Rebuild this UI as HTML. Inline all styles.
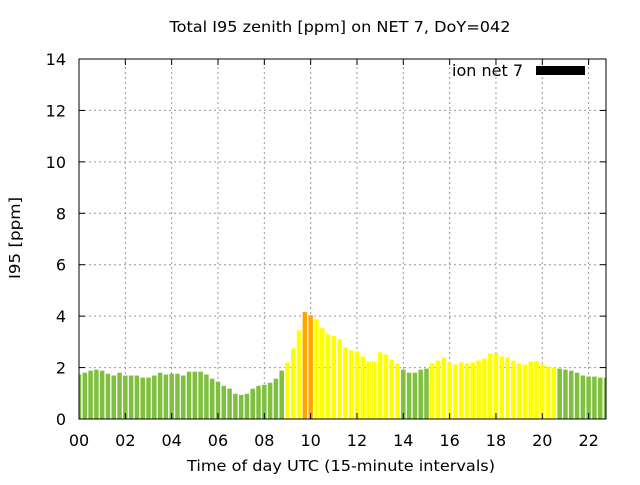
<!DOCTYPE html>
<html><head><meta charset="utf-8"><style>
body{margin:0;background:#fff}
svg text{font-family:"DejaVu Sans","Liberation Sans",sans-serif;fill:#000}
</style></head><body>
<svg id="chart" width="640" height="480" xmlns="http://www.w3.org/2000/svg">
<rect width="640" height="480" fill="#fff"/>
<text x="340" y="32" text-anchor="middle" font-size="15" textLength="341" lengthAdjust="spacingAndGlyphs">Total I95 zenith [ppm] on NET 7, DoY=042</text>
<g id="grid"></g>
<g id="bars"></g>
<g id="axes"></g>
<text x="341" y="471" text-anchor="middle" font-size="15" textLength="308" lengthAdjust="spacingAndGlyphs">Time of day UTC (15-minute intervals)</text>
<text transform="translate(20,238) rotate(-90)" text-anchor="middle" font-size="15" textLength="82" lengthAdjust="spacingAndGlyphs">I95 [ppm]</text>
<g>
<text x="523" y="76" text-anchor="end" font-size="16">ion net 7</text>
<rect x="536" y="66" width="49" height="9" fill="#000"/>
</g>
</svg>
<script>
const values=[1.73,1.80,1.88,1.92,1.88,1.76,1.69,1.80,1.69,1.69,1.69,1.61,1.61,1.69,1.80,1.73,1.76,1.76,1.69,1.84,1.84,1.84,1.73,1.57,1.45,1.29,1.18,0.98,0.94,0.98,1.18,1.29,1.33,1.41,1.57,1.88,
2.20,2.75,3.45,4.16,4.04,3.88,3.53,3.29,3.22,3.10,2.78,2.67,2.63,2.43,2.24,2.24,2.59,2.51,2.31,2.16,
1.92,1.80,1.80,1.92,1.96,
2.16,2.27,2.39,2.20,2.12,2.20,2.16,2.20,2.27,2.35,2.55,2.55,2.43,2.39,2.27,2.16,2.12,2.24,2.24,2.12,2.04,2.00,
1.96,1.92,1.88,1.80,1.69,1.65,1.65,1.61,1.61];
const yTicks=[0,2,4,6,8,10,12,14];
const xTicks=[0,2,4,6,8,10,12,14,16,18,20,22];
const xTickLabels=["00","02","04","06","08","10","12","14","16","18","20","22"];
const X0=79,X1=606,Y0=419,Y1=59,XMAX=22.75,YMAX=14;
const sx=h=>X0+(X1-X0)*h/XMAX, sy=v=>Y0-(Y0-Y1)*v/YMAX;
const NS="http://www.w3.org/2000/svg";
function mk(t,a,p){const e=document.createElementNS(NS,t);for(const k in a)e.setAttribute(k,a[k]);p.appendChild(e);return e;}
const grid=document.getElementById('grid'),bars=document.getElementById('bars'),axes=document.getElementById('axes');
yTicks.forEach(v=>{
 if(v>0&&v<YMAX){const l=mk('line',{x1:X0,x2:X1,y1:sy(v),y2:sy(v),stroke:'#999','stroke-dasharray':'2,3'},grid);
 
 }
 mk('line',{x1:X0,x2:X0+6,y1:sy(v),y2:sy(v),stroke:'#000'},axes);
 mk('line',{x1:X1,x2:X1-6,y1:sy(v),y2:sy(v),stroke:'#000'},axes);
 const t=mk('text',{x:X0-13,y:sy(v)+6,'text-anchor':'end','font-size':16},axes);t.textContent=v;
 
 
});
xTicks.forEach((h,i)=>{
 if(h>0){const l=mk('line',{x1:sx(h),x2:sx(h),y1:Y0,y2:Y1,stroke:'#999','stroke-dasharray':'2,3'},grid);
 
 }
 mk('line',{x1:sx(h),x2:sx(h),y1:Y0,y2:Y0-6,stroke:'#000'},axes);
 mk('line',{x1:sx(h),x2:sx(h),y1:Y1,y2:Y1+6,stroke:'#000'},axes);
 const t=mk('text',{x:sx(h),y:Y0+27,'text-anchor':'middle','font-size':16},axes);t.textContent=xTickLabels[i];
 
 
});
const bw=(X1-X0)/XMAX*0.25*0.78;
values.forEach((v,i)=>{
 const c=v>=4?'#ffa500':(v>=2?'#ffff00':'#80c040');
 let x=sx(i*0.25)-bw/2,w=bw;
 if(x<X0){w-=X0-x;x=X0;} if(x+w>X1){w=X1-x;}
 const r=mk('rect',{x:x,y:sy(v),width:w,height:Y0-sy(v),fill:c},bars);
 
 
});
mk('rect',{x:X0,y:Y1,width:X1-X0,height:Y0-Y1,fill:'none',stroke:'#000','stroke-width':1},axes);
</script>
</body></html>
